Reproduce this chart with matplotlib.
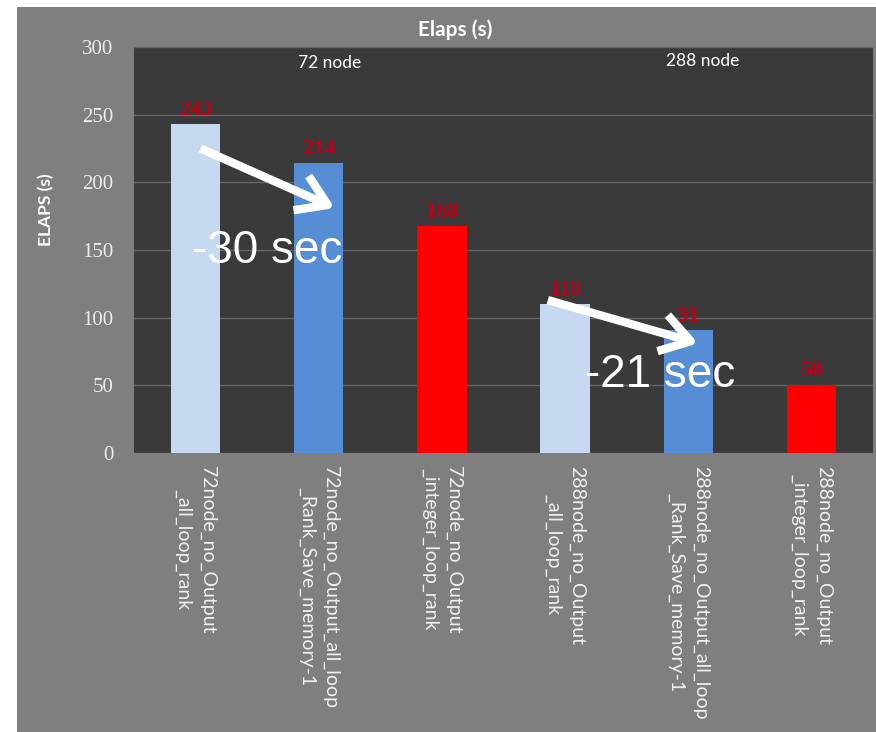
import matplotlib
matplotlib.use('Agg')
import matplotlib.pyplot as plt
from matplotlib.patches import Rectangle

# Tiempos de ejecución (s) por configuración
etiquetas = ['72node_no_Output\n_all_loop_rank',
             '72node_no_Output_all_loop\n_Rank_Save_memory-1',
             '72node_no_Output\n_integer_loop_rank',
             '288node_no_Output\n_all_loop_rank',
             '288node_no_Output_all_loop\n_Rank_Save_memory-1',
             '288node_no_Output\n_integer_loop_rank']
elaps = [243, 214, 168, 110, 91, 50]
colores = ['#c6d9f1', '#558ed5', '#ff0000', '#c6d9f1', '#558ed5', '#ff0000']

fig = plt.figure(figsize=(8.76, 7.32), dpi=100, facecolor='white')
W, H = 876, 732

# Panel gris de fondo
fig.patches.append(Rectangle((17 / W, 0), 1 - 17 / W, 1 - 7 / H,
                             transform=fig.transFigure, facecolor='#7f7f7f',
                             edgecolor='none', zorder=-10))

ax = fig.add_axes([134 / W, 1 - 453 / H, (873 - 134) / W, (453 - 47) / H])
ax.set_facecolor('#3a3a3a')

x = range(len(elaps))
ax.bar(x, elaps, width=0.4, color=colores, zorder=3)

ax.set_xlim(-0.5, len(elaps) - 0.5)
ax.set_ylim(0, 300)
ax.set_yticks(range(0, 301, 50))
ax.yaxis.grid(True, color='#666666', lw=1, zorder=1)
for s in ax.spines.values():
    s.set_visible(False)
ax.tick_params(length=0)

ax.set_xticks(list(x))
ax.set_xticklabels(etiquetas, rotation=270, ha='center', va='top',
                   multialignment='center', family='Lato', fontsize=14,
                   color='#f0f0f0', linespacing=1.5)
ax.tick_params(axis='x', pad=9)
for t in ax.get_yticklabels():
    t.set_family('Liberation Serif')
    t.set_fontsize(15)
    t.set_color('#ececec')
ax.tick_params(axis='y', pad=15)

ax.set_ylabel('ELAPS (s)', family='Lato', fontweight='bold', fontsize=12.5,
              color='white')
ax.yaxis.set_label_coords(-0.108, 0.6)

fig.text(455 / W, 1 - 30 / H, 'Elaps (s)', ha='center', va='center',
         family='Lato', fontweight='bold', fontsize=15, color='white')

# Valores sobre las barras
for i, v in enumerate(elaps):
    ax.text(i, v + 3, str(v), ha='center', va='bottom',
            family='Liberation Serif', fontweight='bold',
            fontsize=16, color='#c00018', zorder=4)

ax.text(1.09, 288, '72 node', ha='center', va='center', family='Lato',
        fontsize=12.5, color='white')
ax.text(4.12, 290, '288 node', ha='center', va='center', family='Lato',
        fontsize=12.5, color='white')

# Flechas de mejora
flecha = dict(arrowstyle='->, head_length=0.7, head_width=0.45', lw=6,
              mutation_scale=30, color='white', shrinkA=0, shrinkB=0,
              capstyle='butt')
ax.annotate('', xy=(1.13, 181), xytext=(0.04, 225), arrowprops=flecha,
            zorder=5)
ax.annotate('', xy=(4.08, 81), xytext=(2.86, 113), arrowprops=flecha,
            zorder=5)

ax.text(0.58, 149, '-30 sec', ha='center', va='center',
        family='Liberation Sans', fontsize=33, color='white', zorder=6)
ax.text(3.77, 58, '-21 sec', ha='center', va='center',
        family='Liberation Sans', fontsize=33, color='white', zorder=6)

fig.savefig('out.png', dpi=100, facecolor=fig.get_facecolor())
